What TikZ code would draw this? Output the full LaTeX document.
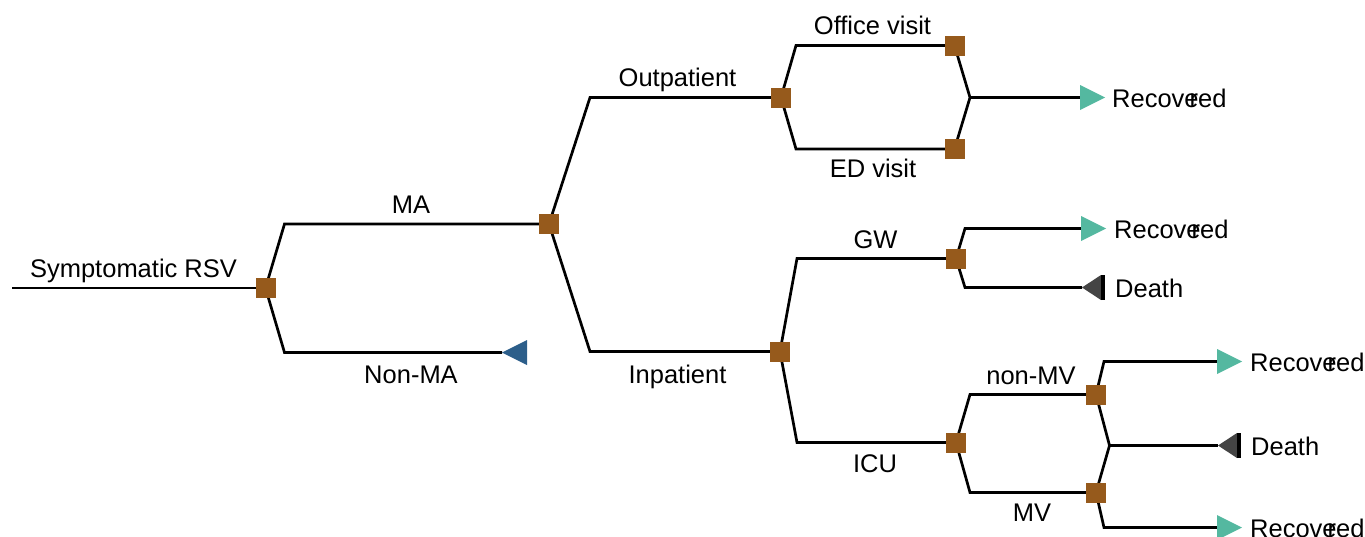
\documentclass[tikz,border=0pt]{standalone}
\usepackage{fontspec}
\setmainfont{Liberation Sans}
\usetikzlibrary{backgrounds,calc}
\definecolor{chancec}{RGB}{150,90,28}
\definecolor{recc}{RGB}{84,184,160}
\definecolor{nonmac}{RGB}{44,94,138}
\definecolor{deathc}{RGB}{68,68,68}
\newcommand{\recword}{Recove\kern-9pt red}
\begin{document}
\begin{tikzpicture}[x=1pt,y=-1pt,
  sq/.style={rectangle, fill=chancec, minimum size=20pt, inner sep=0pt},
  br/.style={draw=black, line width=2.7pt, line join=miter},
  lab/.style={font=\fontsize{25.5}{30}\selectfont, anchor=base, inner sep=0pt},
  outlab/.style={font=\fontsize{25.5}{30}\selectfont, anchor=base west, inner sep=0pt},
  rectri/.style={fill=recc},
  deathtri/.style={fill=deathc},
  nonmatri/.style={fill=nonmac}]
\useasboundingbox (0,0) rectangle (1365,536);

% decision / chance squares
\node[sq] (n1) at (265.5,288) {};
\node[sq] (n2) at (549,224) {};
\node[sq] (n3) at (781,97.5) {};
\node[sq] (n4) at (780,351.5) {};
\node[sq] (off) at (954.5,45.5) {};
\node[sq] (ed) at (954.5,149) {};
\node[sq] (gw) at (956,258.5) {};
\node[sq] (icu) at (956,442.5) {};
\node[sq] (nmv) at (1096,394.5) {};
\node[sq] (mv) at (1096,492.5) {};

% corner and end points
\coordinate (root) at (12,288);
\coordinate (n1u) at (284.5,224);
\coordinate (n1d) at (284.5,352.5);
\coordinate (nonma) at (502,352.5);
\coordinate (n2u) at (590,97.5);
\coordinate (n2d) at (590,351.5);
\coordinate (n3u) at (796,45.5);
\coordinate (n3d) at (796,149);
\coordinate (j1) at (970,97.5);
\coordinate (r1) at (1080,97.5);
\coordinate (n4u) at (797,258.5);
\coordinate (n4d) at (797,442.5);
\coordinate (gwu) at (965,228.5);
\coordinate (gwd) at (965,287.5);
\coordinate (r2) at (1081,228.5);
\coordinate (d1) at (1082,287.5);
\coordinate (icuu) at (970,394.5);
\coordinate (icud) at (970,492.5);
\coordinate (nmvu) at (1104,361.5);
\coordinate (mvd) at (1104,527.5);
\coordinate (j2) at (1109.5,445.5);
\coordinate (r3) at (1217,361.5);
\coordinate (d2) at (1218,445.5);
\coordinate (r4) at (1217,527.5);

\begin{scope}[on background layer]
\draw[br] (root) -- (n1.center);
\draw[br] (n1.center) -- (n1u) -- (n2.center);
\draw[br] (n1.center) -- (n1d) -- (nonma);
\draw[br] (n2.center) -- (n2u) -- (n3.center);
\draw[br] (n2.center) -- (n2d) -- (n4.center);
\draw[br] (n3.center) -- (n3u) -- (off.center);
\draw[br] (n3.center) -- (n3d) -- (ed.center);
\draw[br] (off.center) -- (j1) -- (ed.center);
\draw[br] (j1) -- (r1);
\draw[br] (n4.center) -- (n4u) -- (gw.center);
\draw[br] (n4.center) -- (n4d) -- (icu.center);
\draw[br] (gw.center) -- (gwu) -- (r2);
\draw[br] (gw.center) -- (gwd) -- (d1);
\draw[br] (icu.center) -- (icuu) -- (nmv.center);
\draw[br] (icu.center) -- (icud) -- (mv.center);
\draw[br] (nmv.center) -- (nmvu) -- (r3);
\draw[br] (mv.center) -- (mvd) -- (r4);
\draw[br] (nmv.center) -- (j2) -- (mv.center);
\draw[br] (j2) -- (d2);
\end{scope}

% terminal markers
\fill[nonmatri] (nonma) -- ++(25,-12.5) -- ++(0,25) -- cycle;
\foreach \t in {r1,r2,r3,r4}{
  \fill[rectri] (\t) -- ++(0,-12.5) -- ++(25,12.5) -- ++(-25,12.5) -- cycle;
}
\foreach \t in {d1,d2}{
  \fill[deathtri] (\t) -- ++(19,-12.5) -- ++(0,25) -- cycle;
  \fill[black] ($(\t)+(19,-12.5)$) rectangle ++(4,25);
}

% branch labels
\node[lab] (lsym) at (133.5,277) {Symptomatic RSV};
\node[lab] (lma) at (411,213) {MA};
\node[lab] (lnonma) at (411,383.5) {Non-MA};
\node[lab] (lout) at (677.5,86.5) {Outpatient};
\node[lab] (lin) at (677.5,383.5) {Inpatient};
\node[lab] (loff) at (872.5,34.5) {Office visit};
\node[lab] (led) at (873,177) {ED visit};
\node[lab] (lgw) at (875.5,248) {GW};
\node[lab] (licu) at (875,472) {ICU};
\node[lab] (lnmv) at (1031,384.5) {non-MV};
\node[lab] (lmv) at (1032,521) {MV};

% outcome labels
\node[outlab] (o1) at ($(r1)+(32,10)$) {\recword};
\node[outlab] (o2) at ($(r2)+(33,10)$) {\recword};
\node[outlab] (o3) at ($(r3)+(33,10)$) {\recword};
\node[outlab] (o4) at ($(r4)+(33,10)$) {\recword};
\node[outlab] (o5) at ($(d1)+(33,10)$) {Death};
\node[outlab] (o6) at ($(d2)+(33,10)$) {Death};
\end{tikzpicture}
\end{document}
